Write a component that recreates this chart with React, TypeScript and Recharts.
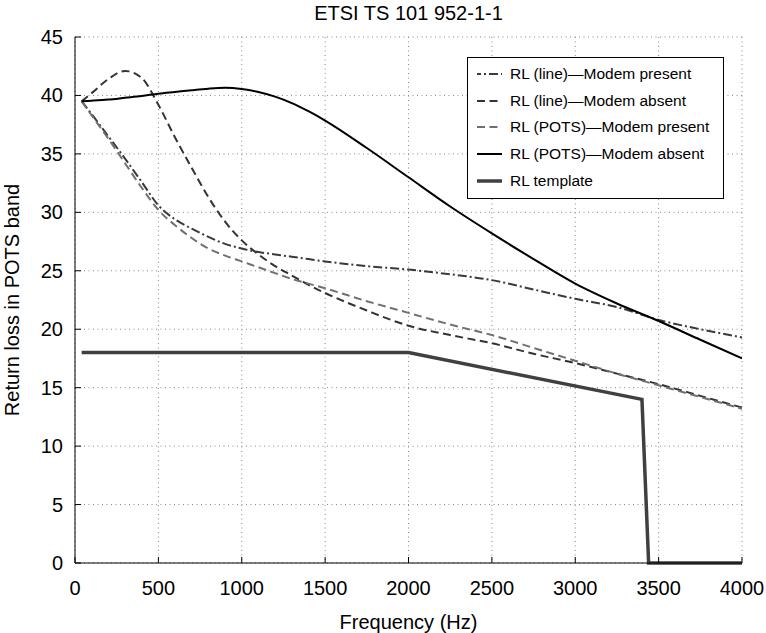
import React from 'react';
import { LineChart, Line, XAxis, YAxis, CartesianGrid, Legend, Label } from 'recharts';

// frequency grid (Hz) shared by the four measured curves
const freq = [40, 100, 200, 300, 400, 500, 600, 700, 800, 900, 1000, 1100, 1200, 1300, 1400, 1500, 1750, 2000, 2250, 2500, 2750, 3000, 3250, 3500, 3750, 4000];

// return loss (dB)
const lineModemPresent = [39.5, 38.4, 36.5, 34.6, 32.6, 30.6, 29.4, 28.6, 27.9, 27.3, 26.9, 26.6, 26.4, 26.2, 26.0, 25.8, 25.4, 25.1, 24.7, 24.2, 23.4, 22.6, 21.9, 20.8, 20.0, 19.3];
const lineModemAbsent = [39.5, 40.2, 41.4, 42.1, 41.5, 39.2, 36.4, 33.8, 31.3, 29.2, 27.6, 26.4, 25.4, 24.6, 23.8, 23.1, 21.6, 20.3, 19.5, 18.8, 17.9, 17.1, 16.2, 15.3, 14.3, 13.3];
const potsModemPresent = [39.5, 38.3, 36.3, 34.2, 32.1, 30.2, 28.9, 27.8, 26.9, 26.3, 25.8, 25.3, 24.8, 24.3, 23.9, 23.5, 22.4, 21.4, 20.4, 19.5, 18.4, 17.3, 16.2, 15.2, 14.2, 13.2];
const potsModemAbsent = [39.5, 39.55, 39.65, 39.8, 39.95, 40.15, 40.3, 40.45, 40.58, 40.65, 40.55, 40.3, 39.9, 39.35, 38.65, 37.85, 35.5, 33.0, 30.5, 28.2, 26.0, 23.9, 22.2, 20.7, 19.1, 17.5];

const templateFreq = [40, 2000, 3400, 3440, 4000];
const templateRL = [18, 18, 14, 0, 0];

const xTicks = [0, 500, 1000, 1500, 2000, 2500, 3000, 3500, 4000];
const yTicks = [0, 5, 10, 15, 20, 25, 30, 35, 40, 45];

const rows = (fs: number[], vs: number[]) => fs.map((f, i) => ({ f, v: vs[i] }));

const series = [
  { name: 'RL (line)\u2014Modem present', values: lineModemPresent, color: '#3a3a3a', width: 2, dash: '9 3 2 3' },
  { name: 'RL (line)\u2014Modem absent', values: lineModemAbsent, color: '#333333', width: 2, dash: '8 4.5' },
  { name: 'RL (POTS)\u2014Modem present', values: potsModemPresent, color: '#707070', width: 2, dash: '8 4.5' },
  { name: 'RL (POTS)\u2014Modem absent', values: potsModemAbsent, color: '#000000', width: 2, dash: undefined },
];

const template = { name: 'RL template', color: '#404040', width: 3.5 };

const FONT = '"Liberation Sans", Arial, Helvetica, sans-serif';
const TICK_LEN = 6;

function BottomTick({ x, y, payload }: any) {
  return (
    <g>
      <line x1={x} x2={x} y1={y} y2={y - TICK_LEN} stroke="#000" />
      <text x={x} y={y + 32} textAnchor="middle" fontSize={20} fontFamily={FONT} fill="#000">
        {payload.value}
      </text>
    </g>
  );
}

function TopTick({ x, y }: any) {
  return <line x1={x} x2={x} y1={y} y2={y + TICK_LEN} stroke="#000" />;
}

function LeftTick({ x, y, payload }: any) {
  return (
    <g>
      <line x1={x} x2={x + TICK_LEN} y1={y} y2={y} stroke="#000" />
      <text x={x - 12} y={y + 7} textAnchor="end" fontSize={20} fontFamily={FONT} fill="#000">
        {payload.value}
      </text>
    </g>
  );
}

function RightTick({ x, y }: any) {
  return <line x1={x} x2={x - TICK_LEN} y1={y} y2={y} stroke="#000" />;
}

function LegendBox() {
  const items = [...series, { ...template, dash: undefined }];
  return (
    <div
      style={{
        border: '1px solid #000',
        background: '#fff',
        boxSizing: 'border-box',
        width: 257,
        height: 142,
        padding: '3px 0 0 0',
        fontFamily: FONT,
        fontSize: 15.5,
        color: '#000',
      }}
    >
      {items.map((it) => (
        <div key={it.name} style={{ display: 'flex', alignItems: 'center', height: 26.6 }}>
          <svg width={42} height={10} style={{ flex: 'none' }}>
            <line
              x1={9}
              x2={34}
              y1={5}
              y2={5}
              stroke={it.color}
              strokeWidth={it.width}
              strokeDasharray={it.dash}
              strokeDashoffset={it.dash === '9 3 2 3' ? 5 : 0}
            />
          </svg>
          <span style={{ whiteSpace: 'nowrap' }}>{it.name}</span>
        </div>
      ))}
    </div>
  );
}

export default function App() {
  return (
    <div style={{ position: 'absolute', left: 0, top: 0, width: 766, height: 633, background: '#fff' }}>
      <div
        style={{
          position: 'absolute',
          left: 75,
          width: 667,
          top: 0,
          lineHeight: '26px',
          textAlign: 'center',
          fontFamily: FONT,
          fontSize: 20,
          color: '#000',
        }}
      >
        ETSI TS 101 952-1-1
      </div>
      <LineChart width={766} height={633} margin={{ top: 37, right: 24, bottom: 0, left: 0 }}>
        <CartesianGrid
          xAxisId="x"
          yAxisId="y"
          stroke="#888"
          strokeDasharray="1 3.5"
          verticalValues={xTicks}
          horizontalValues={yTicks}
        />
        <XAxis
          xAxisId="x"
          dataKey="f"
          type="number"
          domain={[0, 4000]}
          ticks={xTicks}
          allowDataOverflow
          height={70}
          tickSize={0}
          tickMargin={0}
          tick={<BottomTick />}
          tickLine={false}
          axisLine={{ stroke: '#000' }}
        >
          <Label value="Frequency (Hz)" position="center" dy={24} style={{ fontSize: 20, fontFamily: FONT, fill: '#000' }} />
        </XAxis>
        <XAxis
          xAxisId="xt"
          orientation="top"
          dataKey="f"
          type="number"
          domain={[0, 4000]}
          ticks={xTicks}
          height={0}
          tickSize={0}
          tickMargin={0}
          tick={<TopTick />}
          tickLine={false}
          axisLine={{ stroke: '#000' }}
        />
        <YAxis
          yAxisId="y"
          type="number"
          domain={[0, 45]}
          ticks={yTicks}
          width={75}
          tickSize={0}
          tickMargin={0}
          tick={<LeftTick />}
          tickLine={false}
          axisLine={{ stroke: '#000' }}
        >
          <Label
            value="Return loss in POTS band"
            angle={-90}
            position="center"
            dx={-26}
            style={{ fontSize: 20, fontFamily: FONT, fill: '#000', textAnchor: 'middle' }}
          />
        </YAxis>
        <YAxis
          yAxisId="yr"
          orientation="right"
          type="number"
          domain={[0, 45]}
          ticks={yTicks}
          width={0}
          tickSize={0}
          tickMargin={0}
          tick={<RightTick />}
          tickLine={false}
          axisLine={{ stroke: '#000' }}
        />
        {series.map((s) => (
          <Line
            key={s.name}
            xAxisId="x"
            yAxisId="y"
            data={rows(freq, s.values)}
            dataKey="v"
            name={s.name}
            type="monotone"
            stroke={s.color}
            strokeWidth={s.width}
            strokeDasharray={s.dash}
            dot={false}
            activeDot={false}
            isAnimationActive={false}
          />
        ))}
        <Line
          xAxisId="x"
          yAxisId="y"
          data={rows(templateFreq, templateRL)}
          dataKey="v"
          name={template.name}
          type="linear"
          stroke={template.color}
          strokeWidth={template.width}
          dot={false}
          activeDot={false}
          isAnimationActive={false}
        />
        <Legend
          layout="vertical"
          align="center"
          verticalAlign="middle"
          content={() => <LegendBox />}
          wrapperStyle={{ left: 467, top: 57, width: 257, height: 142 }}
        />
      </LineChart>
    </div>
  );
}
